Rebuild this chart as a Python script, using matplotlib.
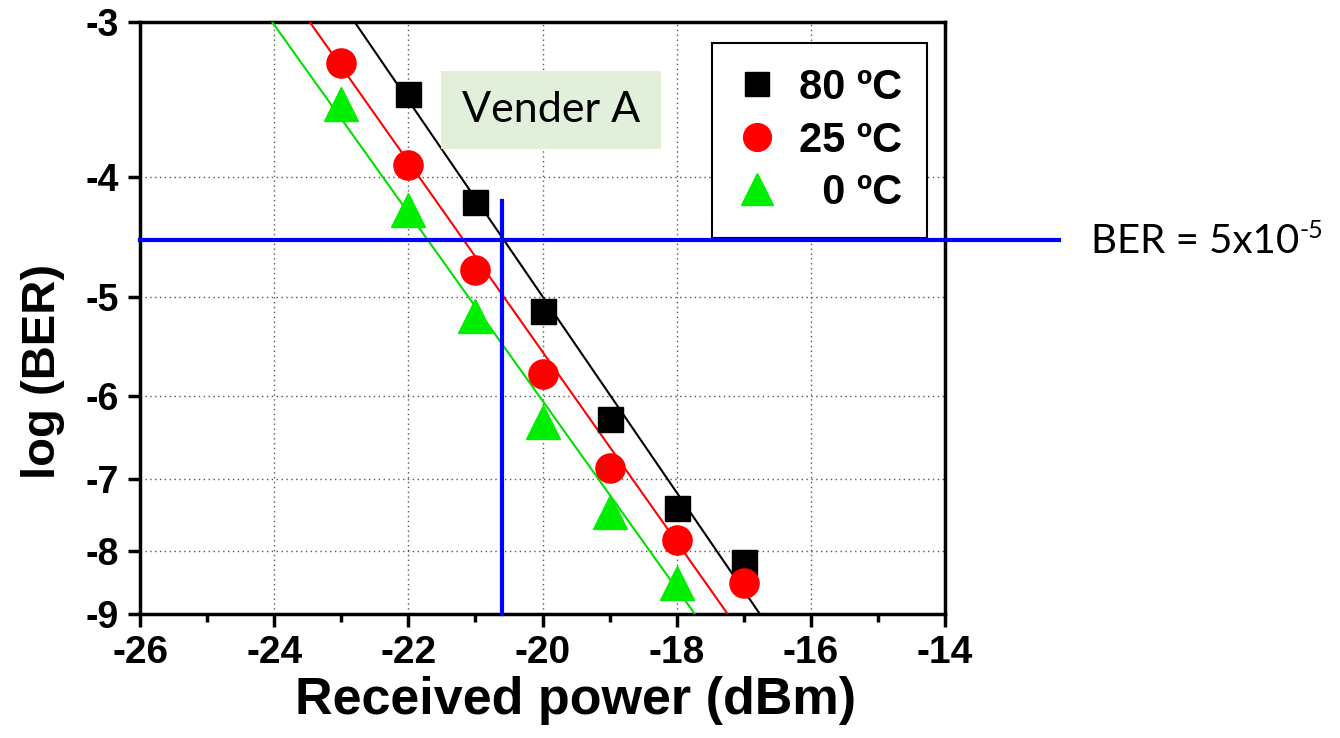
import numpy as np
import matplotlib
matplotlib.use("Agg")
import matplotlib.pyplot as plt
from matplotlib.lines import Line2D
from matplotlib.patches import Rectangle
from matplotlib.ticker import MultipleLocator, NullLocator

# measured points, log10(BER) vs received power (dBm)
power_80 = [-22, -21, -20, -19, -18, -17]
logber_80 = [-3.43, -4.19, -5.13, -6.27, -7.39, -8.17]
power_25 = [-23, -22, -21, -20, -19, -18, -17]
logber_25 = [-3.24, -3.91, -4.75, -5.77, -6.86, -7.85, -8.50]
power_0 = [-23, -22, -21, -20, -19, -18]
logber_0 = [-3.49, -4.25, -5.18, -6.30, -7.45, -8.50]

# fitted lines: received power where each fit crosses log(BER) = -3 and -9
fit_logber = [-3, -9]
fit_80 = [-22.80, -16.76]
fit_25 = [-23.47, -17.24]
fit_0 = [-24.03, -17.73]

# BER threshold markers
thr_level = -4.5
thr_x = [-26, -12.3]
sens_x = -20.6
sens_y = [-9, -4.18]

labels = ['80 ºC', '25 ºC', '  0 ºC']
xticks = [-26, -24, -22, -20, -18, -16, -14]
yticks = [-3, -4, -5, -6, -7, -8, -9]


def fwd(v):
    # BER plots: axis linear in log(-log(BER))
    return -np.log10(np.clip(-np.asarray(v, dtype=float), 1e-3, None))


def inv(u):
    return -10 ** (-np.asarray(u, dtype=float))


plt.rcParams['font.family'] = ['Liberation Sans', 'DejaVu Sans']
plt.rcParams['axes.unicode_minus'] = False

fig = plt.figure(figsize=(13.4, 7.38), dpi=100)
ax = fig.add_axes([0.10448, 0.16802, 0.60075, 0.80217])
ax.set_yscale('function', functions=(fwd, inv))

ax.plot(fit_80, fit_logber, color='black', lw=1.5, zorder=3)
ax.plot(fit_25, fit_logber, color='red', lw=1.5, zorder=3)
ax.plot(fit_0, fit_logber, color='#00e000', lw=1.5, zorder=3)

ax.plot(power_80, logber_80, 's', color='black', ms=18, zorder=4, clip_on=False)
ax.plot(power_25, logber_25, 'o', color='red', ms=21, zorder=4, clip_on=False)
ax.plot(power_0, logber_0, '^', color='#00ee00', ms=24, zorder=4, clip_on=False)

ax.plot(thr_x, [thr_level, thr_level], color='blue', lw=3, zorder=6, clip_on=False)
ax.plot([sens_x, sens_x], sens_y, color='blue', lw=3, zorder=6, clip_on=False)

ax.set_xlim(-26, -14)
ax.set_ylim(-9, -3)
ax.set_xticks(xticks)
ax.set_xticklabels([str(t) for t in xticks])
ax.xaxis.set_minor_locator(MultipleLocator(1))
ax.set_yticks(yticks)
ax.set_yticklabels([str(t) for t in yticks])
ax.yaxis.set_minor_locator(NullLocator())
ax.grid(True, which='major', linestyle=(0, (1, 2.5)), color='#555555', lw=1.0)

for s in ax.spines.values():
    s.set_linewidth(2.5)
ax.tick_params(which='major', direction='out', length=9, width=2.5, pad=6)
ax.tick_params(which='minor', direction='out', length=6, width=2.5)
ax.tick_params(axis='x', labelsize=28)
ax.tick_params(axis='y', labelsize=27)
for lab in ax.get_xticklabels() + ax.get_yticklabels():
    lab.set_fontweight('bold')

ax.set_xlabel('Received power (dBm)', fontsize=37.5, fontweight='bold')
ax.xaxis.set_label_coords(0.541, -0.105)
ax.set_ylabel('log (BER)', fontsize=34, fontweight='bold')
ax.yaxis.set_label_coords(-0.093, 0.4105)

handles = [
    Line2D([], [], ls='none', marker='s', color='black', ms=17),
    Line2D([], [], ls='none', marker='o', color='red', ms=20),
    Line2D([], [], ls='none', marker='^', color='#00ee00', ms=23),
]
leg = ax.legend(handles, labels, loc='upper right', bbox_to_anchor=(0.9776, 0.9645),
                prop={'weight': 'bold', 'size': 30}, frameon=True, fancybox=False,
                edgecolor='black', framealpha=1, borderpad=0.6, labelspacing=0.3,
                handlelength=0.96, handletextpad=0.53, borderaxespad=0)
leg.get_frame().set_linewidth(1.5)
leg.set_zorder(5)

ax.add_patch(Rectangle((0.3739, 0.7855), 0.2733, 0.1318, transform=ax.transAxes,
                       facecolor='#e2efda', edgecolor='none', zorder=5))
ax.text(0.5106, 0.8514, 'Vender A', transform=ax.transAxes, ha='center', va='center',
        fontsize=31, family=['Lato', 'DejaVu Sans'], zorder=6)

ber = fig.text(1091 / 1340, 1 - 253 / 738, 'BER = 5x10', ha='left', va='baseline',
               fontsize=29, family=['Lato', 'DejaVu Sans'])
ax.annotate('-5', xy=(1, 0), xycoords=ber, xytext=(0.5, 16), textcoords='offset points',
            ha='left', va='baseline', fontsize=18, family=['Lato', 'DejaVu Sans'])

fig.savefig('out.png', dpi=100)
